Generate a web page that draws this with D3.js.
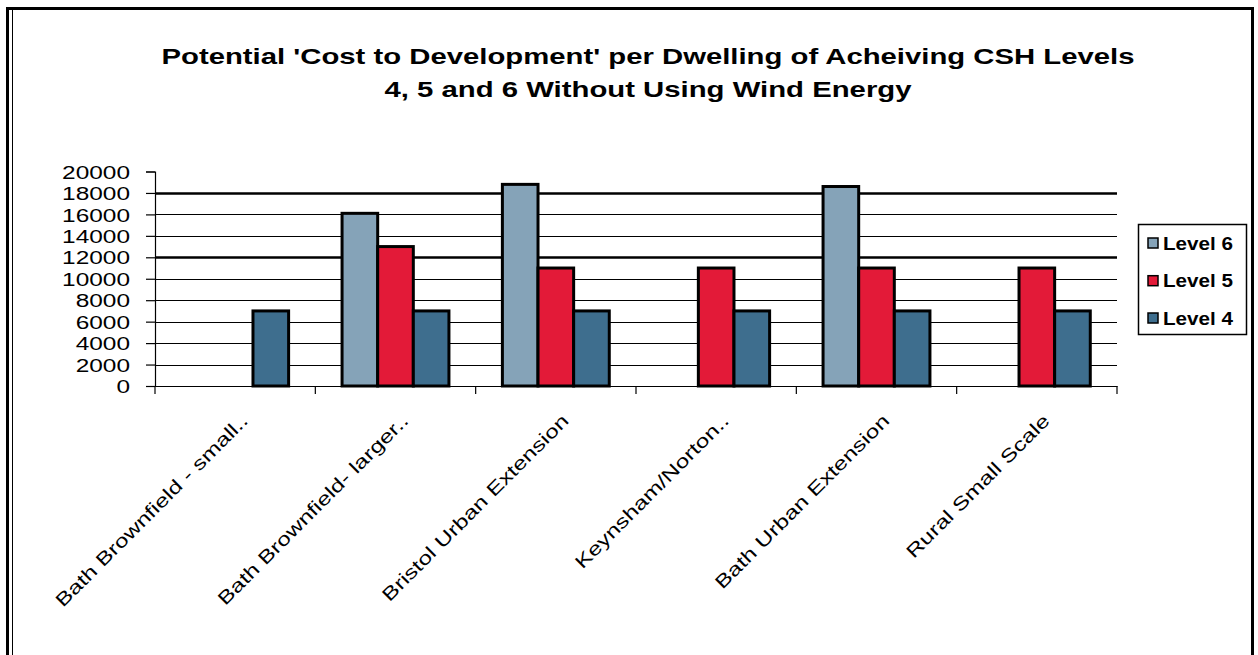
<!DOCTYPE html>
<html>
<head>
<meta charset="utf-8">
<script src="https://cdn.jsdelivr.net/npm/d3@7"></script>
<style>
  html, body { margin: 0; padding: 0; background: #fff; }
  svg { display: block; font-family: "Liberation Sans", Arial, sans-serif; }
</style>
</head>
<body>
<svg id="chart" width="1258" height="655"></svg>
<script>
// Cost per dwelling (GBP) of reaching each Code for Sustainable Homes level, no wind energy
const categories = [
  "Bath  Brownfield - small..",
  "Bath Brownfield- larger..",
  "Bristol Urban Extension",
  "Keynsham/Norton..",
  "Bath Urban Extension",
  "Rural Small Scale"
];
const seriesNames = ["Level 6", "Level 5", "Level 4"];
const level6 = [0, 16100, 18800, 0, 18600, 0];
const level5 = [0, 13000, 11000, 11000, 11000, 11000];
const level4 = [7000, 7000, 7000, 7000, 7000, 7000];
const yTicks = [0, 2000, 4000, 6000, 8000, 10000, 12000, 14000, 16000, 18000, 20000];
const titleLines = [
  "Potential 'Cost to Development' per Dwelling of Acheiving CSH Levels",
  "4, 5 and 6 Without Using Wind Energy"
];

const seriesValues = [level6, level5, level4];
const colors = ["#85a3b8", "#e31a38", "#3e6e8e"];
const wide = 1.32;   // horizontal stretch of the axis lettering

const svg = d3.select("#chart");

// outer frame
svg.append("rect")
  .attr("x", 7.5).attr("y", 8.5)
  .attr("width", 1245).attr("height", 700)
  .attr("fill", "#fff").attr("stroke", "#000").attr("stroke-width", 3);
svg.append("line")
  .attr("x1", 12.5).attr("x2", 12.5).attr("y1", 10).attr("y2", 655)
  .attr("stroke", "#000").attr("stroke-width", 1);

// title
const title = svg.append("g");
title.append("text")
  .attr("x", 648).attr("y", 64)
  .attr("text-anchor", "middle")
  .attr("font-size", 21.5).attr("font-weight", "bold")
  .attr("textLength", 973).attr("lengthAdjust", "spacingAndGlyphs")
  .text(titleLines[0]);
title.append("text")
  .attr("x", 648).attr("y", 97)
  .attr("text-anchor", "middle")
  .attr("font-size", 21.5).attr("font-weight", "bold")
  .attr("textLength", 527).attr("lengthAdjust", "spacingAndGlyphs")
  .text(titleLines[1]);

// scales
const plot = { left: 155, right: 1117, top: 171.5, bottom: 386 };
const x = d3.scaleBand().domain(categories).range([plot.left, plot.right]).padding(0);
const y = d3.scaleLinear().domain([0, 20000]).range([plot.bottom, plot.top]);
const barW = x.bandwidth() / 4.5;          // 150% gap width
const xs = d3.scaleBand().domain(seriesNames)
  .range([barW * 0.75, barW * 3.75]).padding(0);

// gridlines
svg.append("g")
  .selectAll("line")
  .data(yTicks.filter(v => v > 0 && v < 20000))
  .join("line")
  .attr("x1", plot.left).attr("x2", plot.right)
  .attr("y1", d => Math.round(y(d)) + 0.5).attr("y2", d => Math.round(y(d)) + 0.5)
  .attr("stroke", "#000")
  .attr("stroke-width", d => (d === 18000 || d === 12000) ? 2.6 : 1.2);

// bars
const groups = svg.append("g")
  .selectAll("g")
  .data(categories)
  .join("g")
  .attr("transform", d => `translate(${x(d)},0)`);

groups.selectAll("rect")
  .data((c, i) => seriesNames.map((s, k) => ({ s, k, v: seriesValues[k][i] })).filter(d => d.v > 0))
  .join("rect")
  .attr("x", d => xs(d.s))
  .attr("width", xs.bandwidth())
  .attr("y", d => y(d.v))
  .attr("height", d => y(0) - y(d.v))
  .attr("fill", d => colors[d.k])
  .attr("stroke", "#000").attr("stroke-width", 3);

// y axis
const yAxis = svg.append("g")
  .attr("transform", `translate(${plot.left},0)`)
  .call(d3.axisLeft(y).tickValues(yTicks).tickSize(9).tickPadding(0).tickFormat(d3.format("d")));
yAxis.select(".domain").attr("stroke", "#000").attr("stroke-width", 1.2);
yAxis.selectAll(".tick line").attr("stroke", "#000").attr("stroke-width", 1.2);
yAxis.selectAll(".tick text")
  .attr("font-family", "Liberation Sans, Arial, sans-serif")
  .attr("font-size", 18.5)
  .attr("fill", "#000")
  .attr("x", -25 / wide)
  .attr("dy", "0.36em")
  .attr("transform", `scale(${wide},1)`);

// x axis
const xAxis = svg.append("g")
  .attr("transform", `translate(0,${plot.bottom})`)
  .call(d3.axisBottom(x).tickSize(0).tickFormat(""));
xAxis.select(".domain").attr("stroke", "#000").attr("stroke-width", 1.2);
xAxis.selectAll(".tick").remove();

// category separators
svg.append("g")
  .selectAll("line")
  .data(d3.range(categories.length + 1))
  .join("line")
  .attr("x1", i => plot.left + i * x.bandwidth())
  .attr("x2", i => plot.left + i * x.bandwidth())
  .attr("y1", plot.bottom).attr("y2", plot.bottom + 8)
  .attr("stroke", "#000").attr("stroke-width", 1.2);

// rotated category labels
svg.append("g")
  .selectAll("text")
  .data(categories)
  .join("text")
  .attr("text-anchor", "end")
  .attr("font-size", 18.5)
  .attr("transform", d => `translate(${x(d) + x.bandwidth() / 2 + 14},${plot.bottom + 36}) rotate(-45) scale(${wide},1)`)
  .text(d => d);

// legend
const legend = svg.append("g").attr("transform", "translate(1138,224)");
legend.append("rect")
  .attr("x", 0.5).attr("y", 0.5).attr("width", 108).attr("height", 110)
  .attr("fill", "#fff").attr("stroke", "#000").attr("stroke-width", 1.5);
const rowY = [19, 56.7, 94];
const items = legend.selectAll("g.item")
  .data(seriesNames)
  .join("g")
  .attr("class", "item")
  .attr("transform", (d, i) => `translate(0,${rowY[i]})`);
items.append("rect")
  .attr("x", 10).attr("y", -5).attr("width", 10).attr("height", 10)
  .attr("fill", (d, i) => colors[i])
  .attr("stroke", "#000").attr("stroke-width", 1.5);
items.append("text")
  .attr("x", 25).attr("y", 0).attr("dy", "0.36em")
  .attr("font-size", 18.5).attr("font-weight", "bold")
  .attr("textLength", 70).attr("lengthAdjust", "spacingAndGlyphs")
  .text(d => d);
</script>
</body>
</html>
